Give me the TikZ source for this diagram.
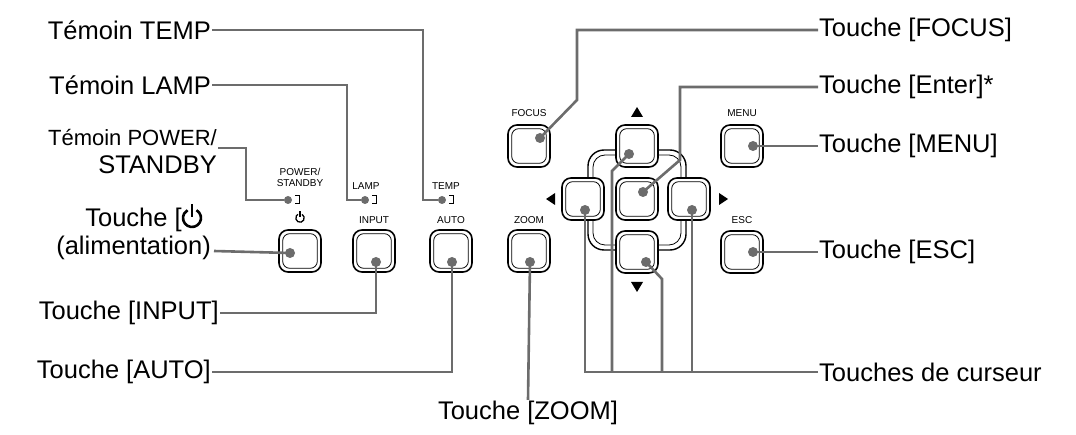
\documentclass[tikz,border=0pt]{standalone}
\usepackage{fontspec}
\setmainfont{Liberation Sans}
\begin{document}
\begin{tikzpicture}[x=1pt,y=-1pt,
  btn/.style={draw=black,line width=1.6pt,fill=white,rounded corners=9pt,minimum width=42pt,minimum height=42pt},
  inner/.style={draw=black,line width=0.8pt,rounded corners=7pt},
  dot/.style={circle,fill=gray!85!black,inner sep=0pt,minimum size=10pt},
  con/.style={draw=gray!85!black,line width=2.6pt},
  lab/.style={font=\fontsize{25.5}{28}\selectfont,inner sep=1pt},
  small/.style={font=\fontsize{10}{11}\selectfont,inner sep=0pt},
  tri/.style={fill=black}]
\useasboundingbox (0,0) rectangle (1076,435);
% cursor ring
\draw[line width=1.4pt,rounded corners=16pt] (588,150) rectangle (686,250);
\draw[line width=0.8pt,rounded corners=12pt] (593,155) rectangle (681,245);
% buttons
\node[btn] (bpow) at (300,251) {};
\node[btn] (binp) at (374,251) {};
\node[btn] (baut) at (451,251) {};
\node[btn] (bzoo) at (529,251) {};
\node[btn] (bfoc) at (529,146) {};
\node[btn] (bup) at (637,146) {};
\node[btn] (bent) at (637,199) {};
\node[btn] (blef) at (583,199) {};
\node[btn] (brig) at (689,199) {};
\node[btn] (bdow) at (637,252) {};
\node[btn] (bmen) at (742,146) {};
\node[btn] (besc) at (742,252) {};
\foreach \b in {bpow,binp,baut,bzoo,bfoc,bup,bent,blef,brig,bdow,bmen,besc}
  \draw[inner] ([xshift=4.5pt,yshift=4.5pt]\b.south west) rectangle ([xshift=-4.5pt,yshift=-4.5pt]\b.north east);
% small labels
\node[small,align=center] (tpow) at (300,177) {POWER/\\STANDBY};
\node[small] (tlamp) at (366,186) {LAMP};
\node[small] (ttemp) at (446,186) {TEMP};
\node[small] (tinp) at (374,220) {INPUT};
\node[small] (taut) at (451,220) {AUTO};
\node[small] (tzoo) at (529,220) {ZOOM};
\node[small] (tfoc) at (529,113) {FOCUS};
\node[small] (tmen) at (742,113) {MENU};
\node[small] (tesc) at (742,220) {ESC};
% power symbol small
\draw[line width=1.3pt] (300,211.5) -- (300,217.5);
\draw[line width=1.3pt] (302.1,214.4) arc (-60:240:4.2);
% arrows
\fill[tri] (631,117) -- (643,117) -- (637,107) -- cycle;
\fill[tri] (631,282) -- (643,282) -- (637,292) -- cycle;
\fill[tri] (555,193) -- (555,205) -- (546,199) -- cycle;
\fill[tri] (719,193) -- (719,205) -- (728,199) -- cycle;
% LEDs
\foreach \n/\x in {lpow/288,llamp/365,ltemp/442}{
  \node[dot,minimum size=8pt] (\n) at (\x,200) {};
  \draw[line width=1pt] (\x+7,196) -- (\x+11,196) -- (\x+11,204) -- (\x+7,204);
}
% dots on buttons
\coordinate (dpow) at (290,253);
\coordinate (dinp) at (376,262);
\coordinate (daut) at (452,262);
\coordinate (dzoo) at (530,262);
\coordinate (dfoc) at (540,138);
\coordinate (dup) at (629,154);
\coordinate (dent) at (643,192);
\coordinate (dlef) at (585,210);
\coordinate (drig) at (692,210);
\coordinate (ddow) at (646,262);
\coordinate (dmen) at (753,146);
\coordinate (desc) at (753,252);
% labels
\node[lab,anchor=east] (Ltemp) at (212,30) {Témoin TEMP};
\node[lab,anchor=east] (Llamp) at (212,85) {Témoin LAMP};
\node[lab,anchor=east,align=right] (Lpow) at (218,152) {\fontsize{22}{26}\selectfont Témoin POWER/\\STANDBY};
\node[lab,anchor=east,align=center] (Lon) at (212,234) {Touche [\hspace{32pt}\\(alimentation)};
\node[lab,anchor=east] (Linp) at (220,313) {Touche [INPUT]};
\node[lab,anchor=east] (Laut) at (212,372) {Touche [AUTO]};
\node[lab] (Lzoo) at (528,413) {Touche [ZOOM]};
\node[lab,anchor=west] (Lfoc) at (818,30) {Touche [FOCUS]};
\node[lab,anchor=west] (Lent) at (818,87) {Touche [Enter]*};
\node[lab,anchor=west] (Lmen) at (818,146) {Touche [MENU]};
\node[lab,anchor=west] (Lesc) at (818,252) {Touche [ESC]};
\node[lab,anchor=west] (Lcur) at (818,372) {Touches de curseur};
% big power symbol
\draw[line width=2.6pt] (192,204) -- (192,217);
\draw[line width=2.6pt] (196.5,210.2) arc (-60:240:9);
% connectors
\draw[con] (Ltemp.east) -| (423,200) -- (ltemp);
\draw[con] (Llamp.east) -| (347,200) -- (llamp);
\draw[con] (Lpow.east |- 0,148) -- (246,148) |- (lpow);
\draw[con] (214,251) -- (dpow);
\draw[con] (Linp.east) -| (dinp);
\draw[con] (Laut.east) -| (daut);
\draw[con] (Lzoo.north) -- (dzoo);
\draw[con] (Lfoc.west) -| (577,100) -- (dfoc);
\draw[con] (Lent.west) -| (680,160) -- (dent);
\draw[con] (Lmen.west) -- (dmen);
\draw[con] (Lesc.west) -- (desc);
\draw[con] (Lcur.west) -- (dlef |- Lcur.west) -- (dlef);
\draw[con] (drig) -- (drig |- Lcur.west);
\draw[con] (dup) -- (612,171) -- (612,372);
\draw[con] (ddow) -- (662,279) -- (662,372);
\foreach \d in {dpow,dinp,daut,dzoo,dfoc,dup,dent,dlef,drig,ddow,dmen,desc}
  \node[dot] at (\d) {};
\end{tikzpicture}
\end{document}
